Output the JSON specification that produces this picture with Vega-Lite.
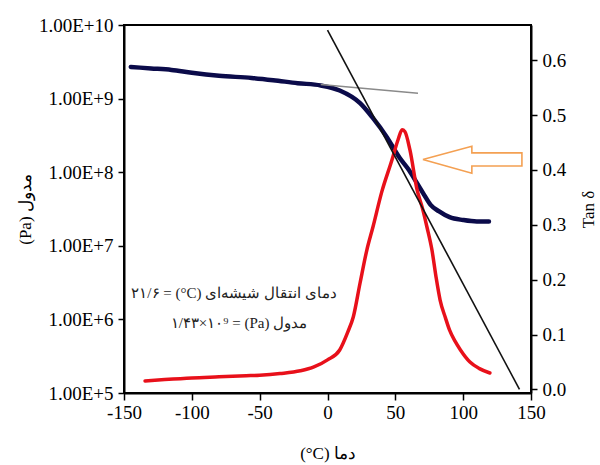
{
  "$schema": "https://vega.github.io/schema/vega-lite/v6.json",
  "width": 407,
  "height": 368,
  "autosize": {"type": "none"},
  "padding": {"left": 124, "top": 25, "right": 69, "bottom": 72},
  "background": "white",
  "config": {
    "view": {"stroke": "black", "strokeWidth": 2},
    "axis": {
      "grid": false,
      "labelFlush": false,
      "domainColor": "black",
      "domainWidth": 2,
      "tickColor": "black",
      "tickWidth": 1.5,
      "tickSize": 6,
      "labelFont": "Liberation Serif",
      "labelFontSize": 19,
      "labelColor": "black",
      "labelPadding": 4,
      "titleFont": "Liberation Serif",
      "titleFontSize": 17,
      "titleFontWeight": "normal",
      "titleColor": "black"
    }
  },
  "datasets": {
    "modulus": [
      {"temp": -145, "modulus": 2.69e9},
      {"temp": -130, "modulus": 2.57e9},
      {"temp": -115, "modulus": 2.45e9},
      {"temp": -100, "modulus": 2.24e9},
      {"temp": -80, "modulus": 2.04e9},
      {"temp": -56, "modulus": 1.91e9},
      {"temp": -40, "modulus": 1.78e9},
      {"temp": -22, "modulus": 1.62e9},
      {"temp": -5, "modulus": 1.51e9},
      {"temp": 9, "modulus": 1.29e9},
      {"temp": 24, "modulus": 8.7e8},
      {"temp": 33, "modulus": 5.6e8},
      {"temp": 44, "modulus": 2.95e8},
      {"temp": 53, "modulus": 1.58e8},
      {"temp": 60, "modulus": 1.07e8},
      {"temp": 66, "modulus": 7.1e7},
      {"temp": 71, "modulus": 5.0e7},
      {"temp": 76, "modulus": 3.6e7},
      {"temp": 82, "modulus": 2.95e7},
      {"temp": 90, "modulus": 2.45e7},
      {"temp": 100, "modulus": 2.24e7},
      {"temp": 110, "modulus": 2.14e7},
      {"temp": 119, "modulus": 2.14e7}
    ],
    "glassy_tangent": [
      {"temp": -5, "modulus": 1.55e9},
      {"temp": 66.7, "modulus": 1.18e9}
    ],
    "transition_tangent": [
      {"temp": 0, "modulus": 8.5e9},
      {"temp": 141.5, "modulus": 1.12e5}
    ],
    "tan_delta": [
      {"temp": -134.5, "tan": 0.0155},
      {"temp": -120, "tan": 0.018},
      {"temp": -100, "tan": 0.021},
      {"temp": -80, "tan": 0.023},
      {"temp": -60, "tan": 0.025},
      {"temp": -50, "tan": 0.026},
      {"temp": -35, "tan": 0.029},
      {"temp": -20, "tan": 0.034},
      {"temp": -10, "tan": 0.041},
      {"temp": 0, "tan": 0.054},
      {"temp": 9, "tan": 0.072},
      {"temp": 15, "tan": 0.105},
      {"temp": 19, "tan": 0.132},
      {"temp": 24, "tan": 0.194},
      {"temp": 29, "tan": 0.254},
      {"temp": 33.5, "tan": 0.296},
      {"temp": 40, "tan": 0.36},
      {"temp": 47.5, "tan": 0.418},
      {"temp": 52, "tan": 0.455},
      {"temp": 55, "tan": 0.473},
      {"temp": 57, "tan": 0.47},
      {"temp": 60.8, "tan": 0.436},
      {"temp": 66, "tan": 0.364},
      {"temp": 70, "tan": 0.33},
      {"temp": 73.3, "tan": 0.296},
      {"temp": 77, "tan": 0.254},
      {"temp": 80, "tan": 0.205},
      {"temp": 83, "tan": 0.163},
      {"temp": 87, "tan": 0.13},
      {"temp": 90, "tan": 0.108},
      {"temp": 94, "tan": 0.088},
      {"temp": 98, "tan": 0.072},
      {"temp": 105, "tan": 0.05},
      {"temp": 112, "tan": 0.038},
      {"temp": 119.7, "tan": 0.03}
    ],
    "arrow": [
      {"order": 1, "temp": 70.3, "tan": 0.419},
      {"order": 2, "temp": 106.4, "tan": 0.443},
      {"order": 3, "temp": 106.4, "tan": 0.431},
      {"order": 4, "temp": 143.3, "tan": 0.431},
      {"order": 5, "temp": 143.3, "tan": 0.407},
      {"order": 6, "temp": 106.4, "tan": 0.407},
      {"order": 7, "temp": 106.4, "tan": 0.394},
      {"order": 8, "temp": 70.3, "tan": 0.419}
    ],
    "notes": [
      {"temp": -68.9, "tan": 0.176, "label": "۲۱/۶ = (°C) دمای انتقال شیشه‌ای"},
      {"temp": -65.3, "tan": 0.122, "label": "۱/۴۳×۱۰⁹ = (Pa) مدول"}
    ]
  },
  "encoding": {
    "x": {
      "field": "temp",
      "type": "quantitative",
      "scale": {"domain": [-150, 150], "nice": false, "zero": false},
      "axis": {
        "values": [-150, -100, -50, 0, 50, 100, 150],
        "labelExpr": "datum.value < 0 ? '-' + abs(datum.value) : '' + datum.value",
        "title": "(°C) دما",
        "tickSize": 7,
        "labelPadding": 3,
        "titleX": 203.5,
        "titleY": 60,
        "titleBaseline": "middle",
        "titleAlign": "center"
      }
    }
  },
  "layer": [
    {
      "encoding": {
        "y": {
          "field": "modulus",
          "type": "quantitative",
          "scale": {"type": "log", "domain": [1e5, 1e10], "nice": false},
          "axis": {
            "orient": "left",
            "values": [1e5, 1e6, 1e7, 1e8, 1e9, 1e10],
            "labelExpr": "'1.00E+' + round(log(datum.value) / LN10)",
            "labelPadding": 5,
            "title": "(Pa) مدول",
            "titleAngle": -90,
            "titleX": -99,
            "titleY": 184,
            "titleAlign": "center",
            "titleBaseline": "middle"
          }
        }
      },
      "layer": [
        {
          "data": {"name": "modulus"},
          "mark": {"type": "line", "color": "#0b0b4a", "strokeWidth": 4.5, "strokeCap": "round", "interpolate": "monotone"}
        },
        {
          "data": {"name": "glassy_tangent"},
          "mark": {"type": "line", "color": "#8a8a8a", "strokeWidth": 1.5}
        }
      ]
    },
    {
      "encoding": {
        "y": {
          "field": "tan",
          "type": "quantitative",
          "scale": {"domain": [-0.0064, 0.664], "nice": false, "zero": false},
          "axis": {
            "orient": "right",
            "values": [0, 0.1, 0.2, 0.3, 0.4, 0.5, 0.6],
            "format": ".1f",
            "labelPadding": 5,
            "title": "Tan δ",
            "titleAngle": -90,
            "titleX": 57,
            "titleY": 184,
            "titleAlign": "center",
            "titleBaseline": "middle"
          }
        }
      },
      "layer": [
        {
          "data": {"name": "tan_delta"},
          "mark": {"type": "line", "color": "#e8101a", "strokeWidth": 3.5, "strokeCap": "round", "interpolate": "monotone"}
        },
        {
          "data": {"name": "arrow"},
          "mark": {"type": "line", "color": "#f4a052", "strokeWidth": 1.6},
          "encoding": {"order": {"field": "order", "type": "quantitative"}}
        },
        {
          "data": {"name": "notes"},
          "mark": {"type": "text", "font": "Liberation Serif", "fontSize": 15, "color": "#222", "align": "center", "baseline": "middle"},
          "encoding": {"text": {"field": "label", "type": "nominal"}}
        }
      ]
    },
    {
      "data": {"name": "transition_tangent"},
      "mark": {"type": "line", "color": "#111111", "strokeWidth": 1.6},
      "encoding": {
        "y": {
          "field": "modulus",
          "type": "quantitative",
          "scale": {"type": "log", "domain": [1e5, 1e10], "nice": false},
          "axis": null
        }
      }
    }
  ],
  "resolve": {"scale": {"y": "independent"}, "axis": {"y": "independent"}}
}
